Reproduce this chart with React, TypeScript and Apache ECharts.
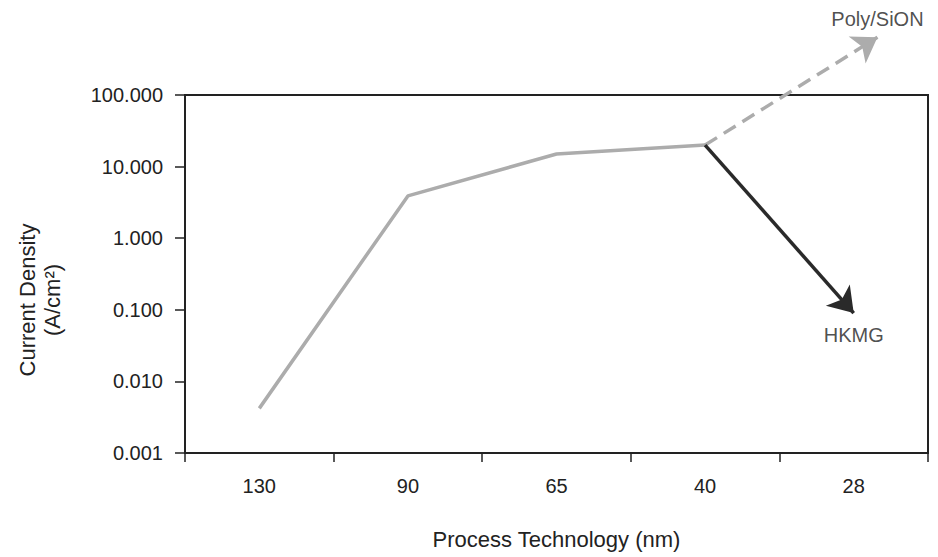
import React, { useEffect, useRef } from "react";
import * as echarts from "echarts";

const categories = ["130", "90", "65", "40", "28"];
const currentDensity = [0.0042, 3.9, 15, 20];
// arrow annotations: [xIndex, value]
const polyArrow = [[3, 20], [4.16, 640]];
const hkmgArrow = [[3, 20], [4, 0.09]];
const polyLabel = "Poly/SiON";
const hkmgLabel = "HKMG";

const FONT = "Liberation Sans, Arial, sans-serif";

export default function App() {
  const ref = useRef<HTMLDivElement>(null);
  useEffect(() => {
    const chart = echarts.init(ref.current!, null, { renderer: "svg" });
    chart.setOption({
      animation: false,
      textStyle: { fontFamily: FONT },
      grid: {
        left: 185,
        right: 10,
        top: 95,
        bottom: 104,
        show: true,
        borderColor: "#222",
        borderWidth: 2,
      },
      xAxis: [
        {
          type: "category",
          data: categories,
          boundaryGap: true,
          name: "Process Technology (nm)",
          nameLocation: "middle",
          nameGap: 75,
          nameTextStyle: { fontSize: 22, color: "#222", fontFamily: FONT },
          axisLine: { show: true, onZero: false, lineStyle: { color: "#222", width: 2 } },
          axisTick: {
            show: true,
            interval: 0,
            alignWithLabel: false,
            length: 9,
            lineStyle: { color: "#222", width: 1.5 },
          },
          axisLabel: { fontSize: 20, color: "#222", margin: 23, fontFamily: FONT },
          splitLine: { show: false },
        },
        {
          type: "value",
          min: -0.5,
          max: 4.5,
          show: false,
          position: "bottom",
          axisLine: { onZero: false },
        },
      ],
      yAxis: {
        type: "log",
        logBase: 10,
        min: 0.001,
        max: 100,
        splitNumber: 5,
        name: "Current Density\n(A/cm²)",
        nameLocation: "middle",
        nameRotate: 90,
        nameGap: 120,
        nameTextStyle: {
          fontSize: 22,
          color: "#222",
          lineHeight: 25,
          fontFamily: FONT,
          padding: [0, 52, 0, 0],
        },
        axisLine: { show: true, onZero: false, lineStyle: { color: "#222", width: 2 } },
        axisTick: { show: true, length: 10, lineStyle: { color: "#222", width: 1.5 } },
        axisLabel: {
          fontSize: 20,
          color: "#222",
          margin: 22,
          fontFamily: FONT,
          formatter: (v: number) => v.toFixed(3),
        },
        splitLine: { show: false },
      },
      series: [
        {
          type: "line",
          xAxisIndex: 0,
          data: currentDensity,
          symbol: "none",
          lineStyle: { color: "#acacac", width: 3.5 },
          z: 2,
        },
        {
          type: "lines",
          coordinateSystem: "cartesian2d",
          xAxisIndex: 1,
          yAxisIndex: 0,
          clip: false,
          symbol: ["none", "arrow"],
          symbolSize: [16, 24],
          data: [
            {
              coords: polyArrow,
              lineStyle: { color: "#acacac", width: 3.5, type: [14, 8], opacity: 1 },
              itemStyle: { color: "#acacac", opacity: 1 },
            },
            {
              coords: hkmgArrow,
              lineStyle: { color: "#2a2a2a", width: 3.5, type: "solid", opacity: 1 },
              itemStyle: { color: "#2a2a2a", opacity: 1 },
            },
          ],
          z: 3,
        },
        {
          type: "scatter",
          xAxisIndex: 1,
          yAxisIndex: 0,
          clip: false,
          symbolSize: 0,
          data: [
            {
              value: polyArrow[1],
              label: { show: true, position: "top", distance: 8, formatter: polyLabel },
            },
            {
              value: hkmgArrow[1],
              label: { show: true, position: "bottom", distance: 12, formatter: hkmgLabel },
            },
          ],
          label: { fontSize: 20, color: "#222", fontFamily: FONT },
          z: 4,
        },
      ],
    });
    return () => chart.dispose();
  }, []);
  return <div ref={ref} style={{ width: 938, height: 557, position: "absolute", left: 0, top: 0 }} />;
}
